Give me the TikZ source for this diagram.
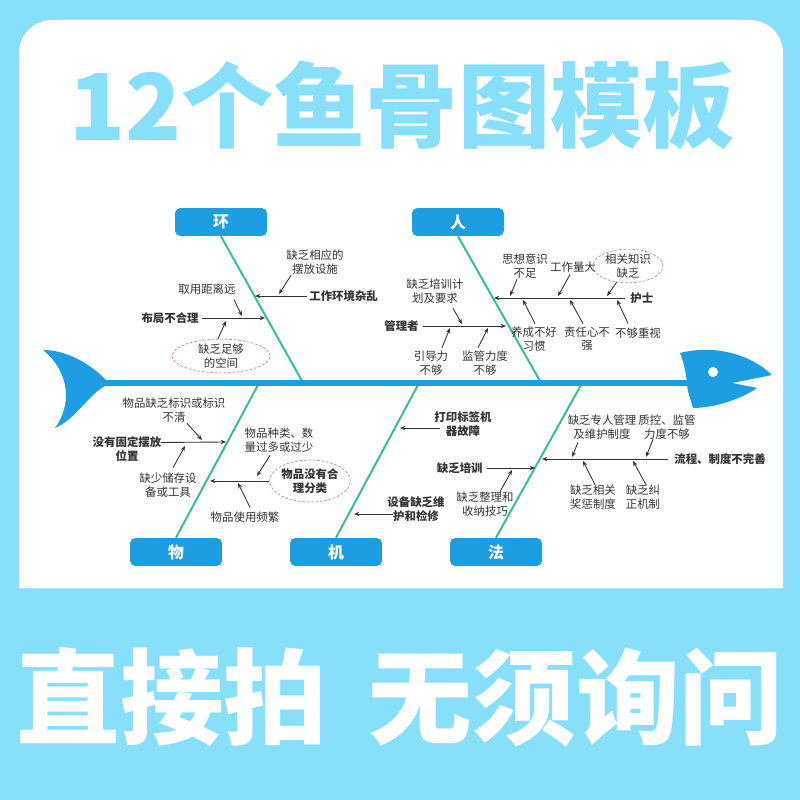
\documentclass[tikz,border=0pt]{standalone}
\usepackage{fontspec}
\newfontfamily\cjk{Noto Sans CJK SC}
\usetikzlibrary{arrows.meta,shapes.geometric}

\definecolor{bgblue}{RGB}{136,223,250}
\definecolor{fishblue}{RGB}{30,158,226}
\definecolor{bonegreen}{RGB}{52,188,158}
\definecolor{txtgray}{RGB}{51,51,51}
\definecolor{dashred}{RGB}{214,130,138}

\begin{document}
\begin{tikzpicture}[
    x=0.02cm, y=-0.02cm,
    >=Stealth,
    cat/.style={fill=fishblue, text=white, rounded corners=3pt,
        minimum width=1.84cm, minimum height=0.56cm,
        font=\cjk\bfseries\fontsize{9}{10}\selectfont},
    bone/.style={bonegreen, line width=1.1pt},
    cause/.style={inner sep=0pt, align=center, text=txtgray,
        font=\cjk\fontsize{6.5}{7.6}\selectfont},
    causeb/.style={cause, font=\cjk\bfseries\fontsize{6.5}{7.6}\selectfont},
    bubble/.style={draw=dashred, dash pattern=on 1.5pt off 1pt,
        line width=0.4pt, ellipse, inner sep=0pt},
    arr/.style={-{Stealth[length=3pt,width=2.4pt]}, txtgray, line width=0.5pt},
]
\useasboundingbox (0,0) rectangle (800,800);

% Background and card
\fill[bgblue] (0,0) rectangle (800,800);
\fill[white] (19,588) [rounded corners=0.66cm] -- (19,20) -- (783,20)
    [sharp corners] -- (783,588) -- cycle;

% Headings
\node[font=\cjk\bfseries\fontsize{52.5}{60}\selectfont, text=bgblue]
    (title) at (402,105) {12个鱼骨图模板};
\node[font=\cjk\bfseries\fontsize{59}{62}\selectfont, text=white]
    (slogan) at (400,697) {直接拍\hspace{0.4em}无须询问};

% Category boxes
\foreach \n/\t/\x/\y in {huan/环/221/222, ren/人/458/222,
    wu/物/176/552, ji/机/336/552, fa/法/496/552} {
    \node[cat] (\n) at (\x,\y) {\t};
}

% Bone ends on the spine
\coordinate (e-huan) at (302,381);
\coordinate (e-ren) at (540,381);
\coordinate (e-wu) at (258,385);
\coordinate (e-ji) at (418,385);
\coordinate (e-fa) at (581,385);
\foreach \n in {huan,ren} {
    \draw[bone] (\n.south) -- (e-\n);
}
\foreach \n in {wu,ji,fa} {
    \draw[bone] (\n.north) -- (e-\n);
}

% Spine, tail and head
\coordinate (spineL) at (100,382.5);
\coordinate (spineR) at (690,382.5);
\draw[fishblue, line width=0.12cm] (spineL) -- (spineR);
\fill[fishblue] (43,350) .. controls (65,350) and (88,362) .. (105,379)
    -- (105,386) .. controls (88,395) and (75,420) .. (55,428)
    .. controls (72,405) and (70,372) .. (43,350) -- cycle;
\fill[fishblue] (680,353) .. controls (715,344) and (752,355) .. (772,375)
    -- (732,383) -- (757,388)
    .. controls (740,400) and (712,408) .. (693,408)
    .. controls (690,398) and (687,390) .. (687,383)
    .. controls (686,372) and (683,360) .. (680,353) -- cycle;
\fill[white] (713,372) circle (5);

% Environment
\node[cause] (qfxy) at (315,262) {缺乏相应的\\摆放设施};
\node[causeb, anchor=west] (gzhj) at (309,296) {工作环境杂乱};
\node[cause] (qyjl) at (207,289) {取用距离远};
\node[causeb, anchor=east] (bjbh) at (199,318) {布局不合理};
\node[bubble, cause, minimum width=1.96cm, minimum height=0.56cm]
    (kzkj) at (221,356) {缺乏足够\\的空间};
\coordinate (e-gzhj) at (255,296);
\coordinate (e-qfxy) at (279,294);
\coordinate (e-bjbh) at (265,318);
\coordinate (e-qyjl) at (242,316);
\coordinate (e-kzkj) at (226,321);
\draw[arr] ([shift={(-2,0)}]gzhj.west) -- (e-gzhj);
\draw[arr] ([shift={(-24,1)}]qfxy.south) -- (e-qfxy);
\draw[arr] ([shift={(3,0)}]bjbh.east) -- (e-bjbh);
\draw[arr] ([shift={(27,5)}]qyjl.south) -- (e-qyjl);
\draw[arr] (kzkj.100) -- (e-kzkj);

% People
\node[causeb, anchor=west] (hs) at (630,298) {护士};
\node[cause] (sxys) at (525,266) {思想意识\\不足};
\node[cause] (gzld) at (573,267) {工作量大};
\node[bubble, cause, minimum width=1.4cm, minimum height=0.64cm]
    (xgzs) at (628,266) {相关知识\\缺乏};
\node[cause] (ycbh) at (534,339) {养成不好\\习惯};
\node[cause] (zrx) at (587,339) {责任心不\\强};
\node[cause] (bgzs) at (638,333) {不够重视};
\node[causeb, anchor=east] (glz) at (419,326) {管理者};
\node[cause] (qfpx) at (435,291) {缺乏培训计\\划及要求};
\node[cause] (ydl) at (431,363) {引导力\\不够};
\node[cause] (jgld) at (485,363) {监管力度\\不够};
\coordinate (e-hs) at (494,298);
\coordinate (e-sxys) at (510,296);
\coordinate (e-gzld) at (558,296);
\coordinate (e-xgzs) at (607,296);
\coordinate (e-ycbh) at (523,300);
\coordinate (e-zrx) at (570,300);
\coordinate (e-bgzs) at (617,300);
\coordinate (e-glz) at (506,326);
\coordinate (e-qfpx) at (462,324);
\coordinate (e-ydl) at (450,328);
\coordinate (e-jgld) at (488,328);
\draw[arr] ([shift={(-5,0)}]hs.west) -- (e-hs);
\draw[arr] ([shift={(-8,1)}]sxys.south) -- (e-sxys);
\draw[arr] ([shift={(-3,2)}]gzld.south) -- (e-gzld);
\draw[arr] (xgzs.235) -- (e-xgzs);
\draw[arr] ([shift={(1,-3)}]ycbh.north) -- (e-ycbh);
\draw[arr] ([shift={(-4,-3)}]zrx.north) -- (e-zrx);
\draw[arr] ([shift={(-10,-4)}]bgzs.north) -- (e-bgzs);
\draw[arr] ([shift={(4,0)}]glz.east) -- (e-glz);
\draw[arr] ([shift={(18,5)}]qfpx.south) -- (e-qfpx);
\draw[arr] ([shift={(11,-3)}]ydl.north) -- (e-ydl);
\draw[arr] ([shift={(-7,-3)}]jgld.north) -- (e-jgld);

% Materials
\node[cause] (wpqf) at (174,410) {物品缺乏标识或标识\\不清};
\node[causeb] (mygd) at (127,449) {没有固定摆放\\位置};
\node[cause] (qscc) at (168,485) {缺少储存设\\备或工具};
\node[cause] (wpzl) at (279,440) {物品种类、数\\量过多或过少};
\node[causeb, bubble, minimum width=1.6cm, minimum height=0.84cm]
    (wpmy) at (310,481) {物品没有合\\理分类};
\node[cause] (wpsy) at (245,517) {物品使用频繁};
\coordinate (e-wpqf) at (202,440);
\coordinate (e-mygd) at (226,442);
\coordinate (e-qscc) at (185,446);
\coordinate (e-wpzl) at (257,476);
\coordinate (e-wpmy) at (210,481);
\coordinate (e-wpsy) at (238,483);
\draw[arr] ([shift={(13,1)}]wpqf.south) -- (e-wpqf);
\draw[arr] ([shift={(-1,6)}]mygd.north east) -- (e-mygd);
\draw[arr] ([shift={(5,-5)}]qscc.north) -- (e-qscc);
\draw[arr] ([shift={(-9,3)}]wpzl.south) -- (e-wpzl);
\draw[arr] (wpmy.west) -- (e-wpmy);
\draw[arr] ([shift={(5,-4)}]wpsy.north) -- (e-wpsy);

% Machines
\node[causeb] (dybq) at (463,424) {打印标签机\\器故障};
\node[causeb] (sbqf) at (416,509) {设备缺乏维\\护和检修};
\coordinate (e-dybq) at (400,428);
\coordinate (e-sbqf) at (354,514);
\draw[arr] ([shift={(6,4)}]dybq.west) -- (e-dybq);
\draw[arr] ([shift={(6,5)}]sbqf.west) -- (e-sbqf);

% Methods
\node[causeb, anchor=east] (qfpx2) at (483,468) {缺乏培训};
\node[cause] (qfzl) at (485,504) {缺乏整理和\\收纳技巧};
\node[causeb, anchor=west] (lczd) at (674,459) {流程、制度不完善};
\node[cause] (qfzr) at (602,427) {缺乏专人管理\\及维护制度};
\node[cause] (zkjg) at (667,427) {质控、监管\\力度不够};
\node[cause] (qfxg) at (593,497) {缺乏相关\\奖惩制度};
\node[cause] (qfjz) at (643,497) {缺乏纠\\正机制};
\coordinate (e-qfpx2) at (535,468);
\coordinate (e-qfzl) at (512,470);
\coordinate (e-lczd) at (542,459);
\coordinate (e-qfzr) at (572,457);
\coordinate (e-zkjg) at (646,457);
\coordinate (e-qfxg) at (583,461);
\coordinate (e-qfjz) at (633,461);
\draw[arr] ([shift={(4,0)}]qfpx2.east) -- (e-qfpx2);
\draw[arr] ([shift={(15,0)}]qfzl.north) -- (e-qfzl);
\draw[arr] ([shift={(-6,0)}]lczd.west) -- (e-lczd);
\draw[arr] ([shift={(-24,3)}]qfzr.south) -- (e-qfzr);
\draw[arr] ([shift={(-14,0)}]zkjg.south) -- (e-zkjg);
\draw[arr] ([shift={(2,0)}]qfxg.north) -- (e-qfxg);
\draw[arr] ([shift={(3,0)}]qfjz.north) -- (e-qfjz);
\end{tikzpicture}
\end{document}
